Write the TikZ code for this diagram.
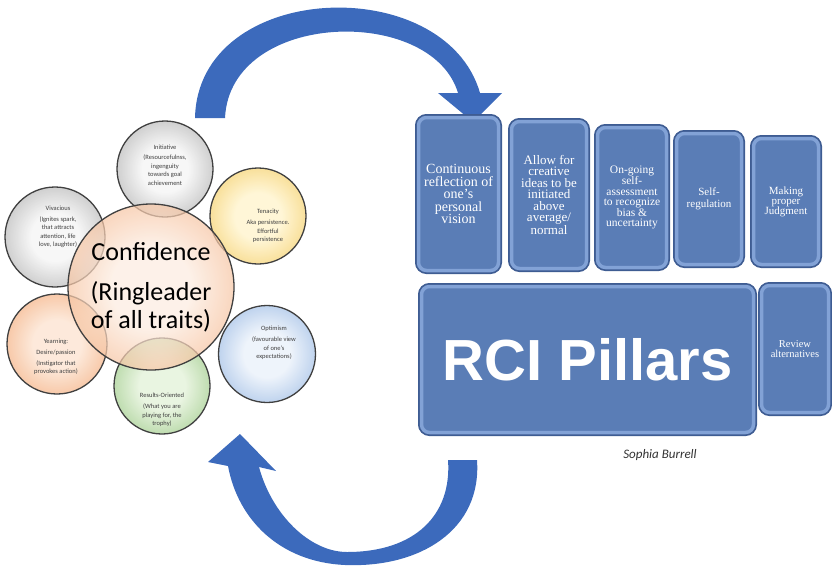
\documentclass[tikz,border=0pt]{standalone}
\usepackage{fontspec}
\setmainfont{Carlito}
\newfontfamily\pillarfont{Liberation Serif}
\newfontfamily\titlefont{Liberation Sans}

\definecolor{arrowblue}{RGB}{60,106,188}
\definecolor{pillarface}{RGB}{90,125,182}
\definecolor{pillarrim}{RGB}{130,162,214}
\definecolor{pillaredge}{RGB}{62,92,146}
\definecolor{grayout}{RGB}{150,150,150}
\definecolor{grayin}{RGB}{245,245,245}
\definecolor{yellowout}{RGB}{240,190,60}
\definecolor{yellowin}{RGB}{255,244,205}
\definecolor{orangeout}{RGB}{240,150,90}
\definecolor{orangein}{RGB}{252,228,210}
\definecolor{blueout}{RGB}{120,162,218}
\definecolor{bluein}{RGB}{234,241,250}
\definecolor{greenout}{RGB}{125,184,98}
\definecolor{greenin}{RGB}{228,242,218}
\definecolor{peachout}{RGB}{242,164,112}
\definecolor{peachin}{RGB}{252,236,224}

\colorlet{glowin}{white}
\colorlet{glowout}{gray}
\pgfdeclareradialshading[glowin,glowout]{glow}{\pgfpoint{0bp}{0bp}}{color(0bp)=(glowin); color(12bp)=(glowin); color(37bp)=(glowout); color(50bp)=(glowout)}

\tikzset{
	trait/.style={circle, inner sep=0pt, draw=black!75, line width=1.3pt, shade, shading=glow, fill opacity=0.8, text opacity=1},
	tint/.style 2 args={/utils/exec={\colorlet{glowin}{#1}\colorlet{glowout}{#2}}},
	traittext/.style={font=\fontsize{6.5}{8.6}\selectfont, text=black!75, align=center},
	pillar/.style={rectangle, rounded corners=8pt, fill=pillarface, draw=pillarrim, line width=3.5pt, preaction={draw=pillaredge, line width=7pt}, text=white, align=center, inner sep=2pt},
}

\begin{document}
\begin{tikzpicture}[x=1pt,y=-1pt]
	\useasboundingbox (0,0) rectangle (832,568);
	
	% curved arrows
	\fill[arrowblue] (195,118) .. controls (198,-20) and (445,-29) .. (480,93) -- (502,93) -- (473,122) -- (438,93) -- (458,93) .. controls (432,5) and (230,10) .. (225,118) -- cycle;
	\fill[arrowblue] (477,460) .. controls (482,530) and (420,568) .. (345,565) .. controls (280,562) and (238,520) .. (228,466) -- (208,462) -- (240,434) -- (276,471) -- (259,467) .. controls (272,515) and (310,552) .. (347,552) .. controls (415,552) and (452,515) .. (448,460) -- cycle;
	
	% traits
	\node[trait, tint={grayin}{grayout}, minimum size=96pt] (initiative) at (165,169) {};
	\node[traittext] (initiativetxt) at (165,165) {Initiative\\[2pt](Resourcefulnss,\\ingenguity\\towards goal\\achievement};
	
	\node[trait, tint={grayin}{grayout}, minimum size=100pt] (vivacious) at (55,237) {};
	\node[traittext] (vivacioustxt) at (58,227) {Vivacious\\[2pt](Ignites spark,\\that attracts\\attention, life\\love, laughter)};
	
	\node[trait, tint={yellowin}{yellowout}, minimum size=96pt] (tenacity) at (258,216) {};
	\node[traittext] (tenacitytxt) at (268,226) {Tenacity\\[2pt]Aka persistence.\\Effortful\\persistence};
	
	\node[trait, tint={orangein}{orangeout}, minimum size=100pt] (yearning) at (57,344) {};
	\node[traittext] (yearningtxt) at (56,357) {Yearning:\\[2pt]Desire/passion\\[2pt](Instigator that\\provokes action)};
	
	\node[trait, tint={bluein}{blueout}, minimum size=97pt] (optimism) at (267,354) {};
	\node[traittext] (optimismtxt) at (274,343) {Optimism\\[2pt](favourable view\\of one’s\\expectations)};
	
	\node[trait, tint={greenin}{greenout}, minimum size=96pt] (results) at (162,386) {};
	\node[traittext] (resultstxt) at (162,410) {Results-Oriented\\[2pt](What you are\\playing for, the\\trophy)};
	
	\node[trait, tint={peachin}{peachout}, minimum size=166pt, fill opacity=0.72, font=\fontsize{26}{28}\selectfont, align=center] (confidence) at (151,287) {Confidence\\[12pt](Ringleader\\of all traits)};
	
	% pillars
	\node[pillar, minimum width=80pt, minimum height=153pt, font=\pillarfont\fontsize{14}{12.5}\selectfont] (vision) at (458.5,194) {Continuous\\reflection of\\one’s\\personal\\vision};
	\node[pillar, minimum width=75pt, minimum height=147pt, font=\pillarfont\fontsize{13}{11.5}\selectfont] (creative) at (549,195) {Allow for\\creative\\ideas to be\\initiated\\above\\average/\\normal};
	\node[pillar, minimum width=69pt, minimum height=140pt, font=\pillarfont\fontsize{11.5}{10.5}\selectfont] (assess) at (632,197.5) {On-going\\self-\\assessment\\to recognize\\bias \&\\uncertainty};
	\node[pillar, minimum width=65pt, minimum height=131pt, font=\pillarfont\fontsize{11}{12}\selectfont] (regulation) at (709,199) {Self-\\regulation};
	\node[pillar, minimum width=65pt, minimum height=126pt, font=\pillarfont\fontsize{11}{10}\selectfont] (judgment) at (786,201.5) {Making\\proper\\Judgment};
	\node[pillar, minimum width=332pt, minimum height=146pt, font=\titlefont\bfseries\fontsize{58}{60}\selectfont] (rci) at (587.5,359.5) {RCI Pillars};
	\node[pillar, minimum width=67pt, minimum height=127pt, font=\pillarfont\fontsize{10.5}{10}\selectfont] (review) at (795,349) {Review\\alternatives};
	
	\node[font=\itshape\fontsize{13}{15}\selectfont, text=black!80] (author) at (660,455) {Sophia Burrell};
\end{tikzpicture}
\end{document}
